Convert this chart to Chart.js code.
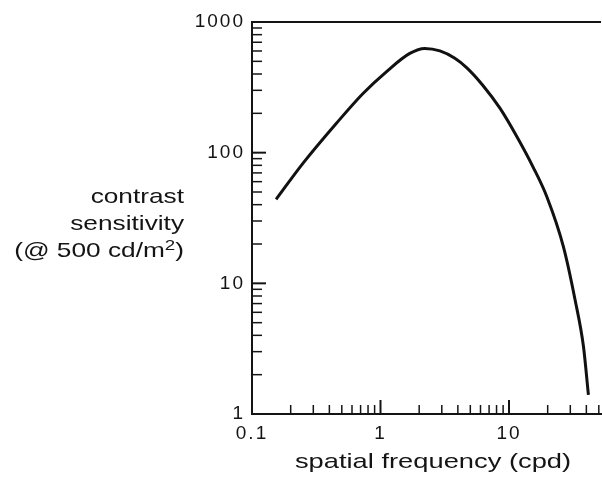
<!DOCTYPE html>
<html>
<head>
<meta charset="utf-8">
<script src="https://cdn.jsdelivr.net/npm/chart.js@4.4.1/dist/chart.umd.min.js"></script>
<style>
  html, body { margin: 0; padding: 0; background: #ffffff; }
  canvas { display: block; }
</style>
</head>
<body>
<canvas id="c" width="602" height="481"></canvas>
<script>
// ---- data ----
const spatialFrequency = [0.154, 0.249, 0.454, 0.731, 1.11, 1.69, 2.21, 2.90, 3.79, 4.70, 6.27, 8.5, 11.5, 15.4, 19.7, 26.5, 32.7, 38.0, 41.5];
const contrastSensitivity = [43.9, 82.8, 168, 284, 416, 575, 628, 601, 528, 446, 327, 219, 133, 77.6, 46, 19.1, 7.45, 3.27, 1.40];

const xTickValues = [0.1, 1, 10];
const xTickLabels = ['0.1', '1', '10'];
const yTickValues = [1, 10, 100, 1000];
const yTickLabels = ['1', '10', '100', '1000'];

const xMinorValues = [0.2,0.3,0.4,0.5,0.6,0.7,0.8,0.9, 2,3,4,5,6,7,8,9, 20,30,40,50];
const yMinorValues = [2,3,4,5,6,7,8,9, 20,30,40,50,60,70,80,90, 200,300,400,500,600,700,800,900];

const xTitle = 'spatial frequency (cpd)';
const yTitleLines = ['contrast', 'sensitivity'];
const yTitleLast = ['(@ 500 cd/m', '2', ')'];

const INK = '#141414';
const FONT = '"Liberation Sans", Arial, Helvetica, sans-serif';

const spacingPlugin = {
  id: 'spacing',
  beforeLayout(chart) { chart.ctx.letterSpacing = '2px'; },
  beforeDraw(chart) { chart.ctx.letterSpacing = '2px'; }
};

function stretchedText(ctx, text, x, y, size, align, sx) {
  ctx.save();
  ctx.letterSpacing = '0px';
  ctx.font = size + 'px ' + FONT;
  ctx.textAlign = align;
  ctx.textBaseline = 'alphabetic';
  ctx.translate(x, y);
  ctx.scale(sx, 1);
  ctx.fillText(text, 0, 0);
  ctx.restore();
}

const decorPlugin = {
  id: 'decor',
  afterDraw(chart) {
    const ctx = chart.ctx;
    const xs = chart.scales.x, ys = chart.scales.y;
    const area = chart.chartArea;
    ctx.save();
    ctx.strokeStyle = INK;
    // top border at 1000
    ctx.lineWidth = 2;
    const yTop = ys.getPixelForValue(1000);
    ctx.beginPath(); ctx.moveTo(area.left, yTop); ctx.lineTo(area.right, yTop); ctx.stroke();
    // inward ticks on y axis
    const yL = xs.getPixelForValue(xs.min);
    yTickValues.forEach(v => {
      const p = ys.getPixelForValue(v);
      ctx.lineWidth = 2;
      ctx.beginPath(); ctx.moveTo(yL, p); ctx.lineTo(yL + 14, p); ctx.stroke();
    });
    yMinorValues.forEach(v => {
      const p = ys.getPixelForValue(v);
      ctx.lineWidth = 1.5;
      ctx.beginPath(); ctx.moveTo(yL, p); ctx.lineTo(yL + 10, p); ctx.stroke();
    });
    // inward ticks on x axis
    const xB = ys.getPixelForValue(ys.min);
    xTickValues.forEach(v => {
      const p = xs.getPixelForValue(v);
      ctx.lineWidth = 2;
      ctx.beginPath(); ctx.moveTo(p, xB); ctx.lineTo(p, xB - 14); ctx.stroke();
    });
    xMinorValues.forEach(v => {
      if (v > xs.max) return;
      const p = xs.getPixelForValue(v);
      ctx.lineWidth = 1.5;
      ctx.beginPath(); ctx.moveTo(p, xB); ctx.lineTo(p, xB - 9); ctx.stroke();
    });
    // titles
    ctx.fillStyle = INK;
    stretchedText(ctx, xTitle, 433, 468, 21, 'center', 1.3);
    const rightX = 184;
    stretchedText(ctx, yTitleLines[0], rightX, 203, 21, 'right', 1.25);
    stretchedText(ctx, yTitleLines[1], rightX, 230, 21, 'right', 1.25);
    // last line with superscript
    ctx.save();
    ctx.letterSpacing = '0px';
    const sx = 1.25;
    const sizes = [21, 15, 21];
    const dys = [0, -7, 0];
    const widths = yTitleLast.map((t, i) => { ctx.font = sizes[i] + 'px ' + FONT; return ctx.measureText(t).width * sx; });
    let x = rightX - widths.reduce((a, b) => a + b, 0);
    yTitleLast.forEach((t, i) => {
      stretchedText(ctx, t, x, 257 + dys[i], sizes[i], 'left', sx);
      x += widths[i];
    });
    ctx.restore();
    ctx.restore();
  }
};

new Chart(document.getElementById('c'), {
  type: 'line',
  data: {
    datasets: [{
      data: spatialFrequency.map((f, i) => ({ x: f, y: contrastSensitivity[i] })),
      borderColor: '#111111',
      borderWidth: 3,
      pointRadius: 0,
      cubicInterpolationMode: 'monotone',
      fill: false
    }]
  },
  options: {
    responsive: false,
    animation: false,
    events: [],
    layout: { padding: { top: 22, right: 1, left: 0, bottom: 0 } },
    plugins: { legend: { display: false }, tooltip: { enabled: false }, title: { display: false } },
    scales: {
      x: {
        type: 'logarithmic',
        min: 0.1,
        max: 52,
        grid: { display: false, drawTicks: false },
        border: { display: true, color: INK, width: 2 },
        afterBuildTicks(scale) { scale.ticks = xTickValues.map(v => ({ value: v, major: true })); },
        afterFit(scale) { scale.height = 67; },
        ticks: {
          autoSkip: false,
          maxRotation: 0,
          padding: 8,
          color: INK,
          font: { family: FONT, size: 19 },
          callback(value) { const i = xTickValues.indexOf(value); return i >= 0 ? xTickLabels[i] : ''; }
        }
      },
      y: {
        type: 'logarithmic',
        min: 1,
        max: 1000,
        grid: { display: false, drawTicks: false },
        border: { display: true, color: INK, width: 2 },
        afterBuildTicks(scale) { scale.ticks = yTickValues.map(v => ({ value: v, major: true })); },
        afterFit(scale) { scale.width = 252; },
        ticks: {
          autoSkip: false,
          padding: 7,
          color: INK,
          font: { family: FONT, size: 19 },
          callback(value) { const i = yTickValues.indexOf(value); return i >= 0 ? yTickLabels[i] : ''; }
        }
      }
    }
  },
  plugins: [spacingPlugin, decorPlugin]
});
</script>
</body>
</html>
